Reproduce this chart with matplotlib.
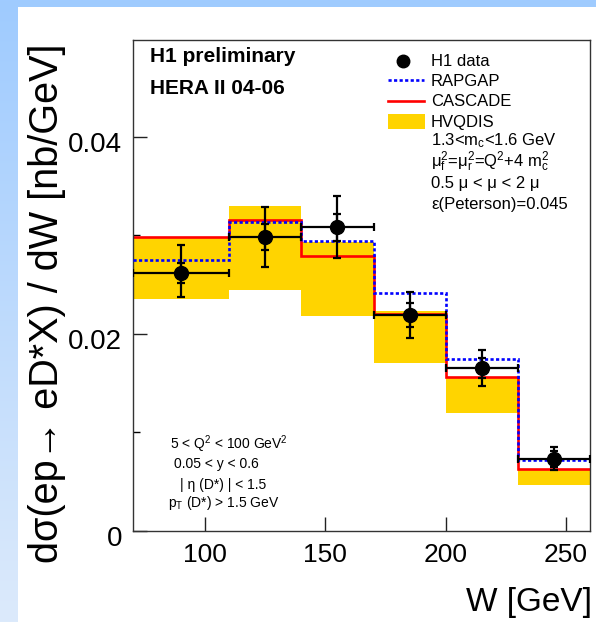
import numpy as np
import matplotlib
matplotlib.use("Agg")
import matplotlib.pyplot as plt
from matplotlib.patches import Rectangle
from matplotlib.lines import Line2D
import matplotlib.transforms as mtrans

plt.rcParams['font.family'] = ['Liberation Sans', 'DejaVu Sans']
plt.rcParams['mathtext.fontset'] = 'custom'
plt.rcParams['mathtext.rm'] = 'Liberation Sans'
plt.rcParams['mathtext.it'] = 'Liberation Sans:italic'
plt.rcParams['mathtext.default'] = 'regular'

# bins in W [GeV]
w_edges = [70, 110, 140, 170, 200, 230, 260]
w_pts = [90, 125, 155, 185, 215, 245]

# H1 data, dsigma/dW [nb/GeV]
h1_data = [0.0262, 0.0298, 0.0308, 0.0219, 0.0165, 0.0073]
stat_err = [0.0010, 0.0013, 0.0014, 0.0012, 0.0010, 0.0008]
tot_up = [0.0028, 0.0031, 0.0032, 0.0023, 0.0019, 0.0012]
tot_dn = [0.0025, 0.0030, 0.0031, 0.0023, 0.0018, 0.0011]

# models
rapgap = [0.0275, 0.0313, 0.0294, 0.0241, 0.0174, 0.0072]
cascade = [0.0298, 0.0315, 0.0279, 0.0220, 0.0156, 0.0063]
hvqdis_hi = [0.0297, 0.0330, 0.0293, 0.0223, 0.0155, 0.0062]
hvqdis_lo = [0.0235, 0.0244, 0.0218, 0.0170, 0.0120, 0.0047]

W, H = 596, 622


def px(x, y):
    return x / W, 1 - y / H


fig = plt.figure(figsize=(W / 100, H / 100), dpi=100)

# slide background: blue border with gradient on the left, white panel
bg = fig.add_axes([0, 0, 1, 1], zorder=-10)
top_c = np.array([0x9f, 0xcb, 0xff]) / 255
bot_c = np.array([0xdc, 0xea, 0xfb]) / 255
t = np.linspace(0, 1, 256)[:, None]
grad = top_c[None, :] * (1 - t) + bot_c[None, :] * t
bg.imshow(grad[:, None, :], extent=(0, 1, 0, 1), aspect='auto')
bg.add_patch(Rectangle((18 / W, 0), 1, 1 - 7 / H, facecolor='white', edgecolor='none'))
bg.set_xlim(0, 1)
bg.set_ylim(0, 1)
bg.axis('off')

x0, y0 = px(133, 531)
x1, y1 = px(590, 40)
ax = fig.add_axes([x0, y0, x1 - x0, y1 - y0])

ax.stairs(hvqdis_hi, w_edges, baseline=hvqdis_lo, fill=True, color='#ffd400', lw=0, zorder=1)
ax.stairs(cascade, w_edges, baseline=None, color='#ff0000', lw=1.9, zorder=2)
ax.stairs(rapgap, w_edges, baseline=None, color='#0000ff', lw=1.9, linestyle=(0, (1.2, 0.9)), zorder=3)

w = np.array(w_pts)
xlo = w - np.array(w_edges[:-1])
xhi = np.array(w_edges[1:]) - w
ax.errorbar(w_pts, h1_data, yerr=[tot_dn, tot_up], xerr=[xlo, xhi], fmt='o', color='k',
            ms=10, elinewidth=1.6, capsize=3, capthick=1.6, zorder=5)
ax.errorbar(w_pts, h1_data, yerr=stat_err, fmt='none', ecolor='k',
            elinewidth=1.6, capsize=3, capthick=1.6, zorder=5)

ax.set_xlim(70, 260)
ax.set_ylim(0, 0.0498)
ax.set_xticks([100, 150, 200, 250])
ax.set_yticks([0, 0.02, 0.04])
ax.set_yticklabels(['0', '0.02', '0.04'])
ax.set_yticks([0.01, 0.03], minor=True)
ax.tick_params(direction='in', length=10, width=1, color='#222222')
ax.tick_params(axis='y', which='minor', direction='in', length=5, width=1)
ax.tick_params(axis='x', labelsize=19, pad=9)
ax.tick_params(axis='y', labelsize=20, pad=8)
off = mtrans.ScaledTranslation(0, -5 / 100, fig.dpi_scale_trans)
for lab in ax.get_yticklabels():
    lab.set_transform(lab.get_transform() + off)
for s in ax.spines.values():
    s.set_linewidth(1)
    s.set_color('#333333')

# axis titles
fig.text(*px(47, 303), 'dσ(ep→ eD*X) / dW [nb/GeV]', rotation=90, ha='center', va='center', fontsize=28.5)
fig.text(*px(592, 603), 'W [GeV]', ha='right', va='center', fontsize=24)

fig.text(*px(150, 57), 'H1 preliminary', fontsize=15, fontweight='bold', va='center')
fig.text(*px(150, 88), 'HERA II 04-06', fontsize=15, fontweight='bold', va='center')

# legend
fig.add_artist(Line2D([403 / W], [1 - 61 / H], marker='o', ms=9, color='k', ls='none'))
fig.add_artist(Line2D([388 / W, 424 / W], [1 - 80 / H] * 2, color='#0000ff', lw=1.9,
                      ls=(0, (1.2, 0.9))))
fig.add_artist(Line2D([388 / W, 424 / W], [1 - 101 / H] * 2, color='#ff0000', lw=1.9))
fig.add_artist(Rectangle(px(388, 129), 37 / W, 15 / H, facecolor='#ffd400', edgecolor='none',
                         transform=fig.transFigure))
leg_lines = [
    ('H1 data', 61),
    ('RAPGAP', 81),
    ('CASCADE', 102),
    ('HVQDIS', 122),
    ('1.3<m$_c$<1.6 GeV', 141),
    ('μ$_f^2$=μ$_r^2$=Q$^2$+4 m$_c^2$', 162),
    ('0.5 μ < μ < 2 μ', 184),
    ('ε(Peterson)=0.045', 205),
]
for txt, y in leg_lines:
    fig.text(*px(431, y), txt, fontsize=12, va='center')

# cuts
cuts = [
    ('5 < Q$^2$ < 100 GeV$^2$', 170, 444),
    ('0.05 < y < 0.6', 174, 464),
    ('| η (D*) | < 1.5', 180, 485),
    ('p$_T$ (D*) > 1.5 GeV', 168, 503),
]
for txt, x, y in cuts:
    fig.text(*px(x, y), txt, fontsize=10, va='center')

fig.savefig('out.png', dpi=100)
